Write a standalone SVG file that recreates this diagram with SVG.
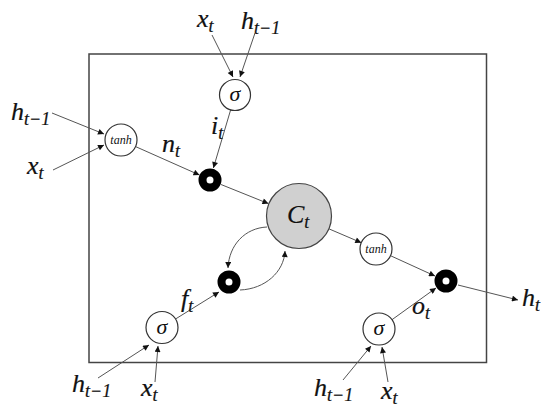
<svg xmlns="http://www.w3.org/2000/svg" width="559" height="418" viewBox="0 0 559 418">
<defs>
<marker id="ah" viewBox="0 0 10 10" refX="10" refY="5" markerWidth="7" markerHeight="6" orient="auto" markerUnits="userSpaceOnUse"><path d="M0,0 L10,5 L0,10 z" fill="#111"/></marker>
<style>
.lbl{font-family:"Liberation Serif",serif;font-style:italic;font-size:26px;fill:#111;stroke:#111;stroke-width:0.2}
.sub{font-size:18px}
.gate{fill:#fff;stroke:#333;stroke-width:1.2}
.gtxt{font-family:"Liberation Serif",serif;font-style:italic;fill:#111;text-anchor:middle}
.mult{fill:#fff;stroke:#000;stroke-width:8}
.c{fill:none;stroke:#555;stroke-width:1;marker-end:url(#ah)}
</style>
</defs>
<rect x="89" y="54" width="397.5" height="308.5" fill="none" stroke="#444" stroke-width="1.5"/>
<g id="connectors">
<path class="c" d="M212,35 L233,77"/>
<path class="c" d="M255,33 L240,77"/>
<path class="c" d="M230.6,110 L213.4,168"/>
<path class="c" d="M52,113 L104,134"/>
<path class="c" d="M53,170 L104,145"/>
<path class="c" d="M135.6,146.6 L199.5,175"/>
<path class="c" d="M221,184.5 L268.4,203.6"/>
<path class="c" d="M329.3,229 L361.3,242.7"/>
<path class="c" d="M390.5,255.7 L435,276"/>
<path class="c" d="M392,319.7 L436,288"/>
<path class="c" d="M458,285 L518,300"/>
<path class="c" d="M343,380 L371,346"/>
<path class="c" d="M388,382 L382,347"/>
<path class="c" d="M98,378 L149,345"/>
<path class="c" d="M155,382 L158,346"/>
<path class="c" d="M175.5,319 L219,292"/>
<path class="c" d="M267,227 C245,228 229,245 228,268"/>
<path class="c" d="M240,290 C265,289 284,272 285,251"/>
</g>
<g id="sigma_i"><circle class="gate" cx="235" cy="95" r="15.5"/><text class="gtxt" x="235" y="101" font-size="22">σ</text></g>
<g id="tanh_in"><circle class="gate" cx="121" cy="140" r="16"/><text class="gtxt" x="121" y="144" font-size="12">tanh</text></g>
<g id="mult_in"><circle class="mult" cx="210" cy="180" r="7.5"/></g>
<g id="cell"><circle cx="299" cy="216" r="32.5" fill="#d0d0d0" stroke="#444" stroke-width="1.2"/><text class="lbl" x="287" y="223">C<tspan class="sub" dy="5">t</tspan></text></g>
<g id="mult_f"><circle class="mult" cx="229" cy="282" r="7.5"/></g>
<g id="sigma_f"><circle class="gate" cx="162" cy="327.5" r="16"/><text class="gtxt" x="162" y="334" font-size="22">σ</text></g>
<g id="tanh_out"><circle class="gate" cx="376" cy="249" r="16"/><text class="gtxt" x="376" y="253" font-size="12">tanh</text></g>
<g id="mult_out"><circle class="mult" cx="446" cy="281" r="7.5"/></g>
<g id="sigma_o"><circle class="gate" cx="379" cy="329" r="16"/><text class="gtxt" x="379" y="335" font-size="22">σ</text></g>
<g id="labels">
<text class="lbl" x="197" y="27">x<tspan class="sub" dy="5">t</tspan></text>
<text class="lbl" x="241" y="29">h<tspan class="sub" dy="5">t−1</tspan></text>
<text class="lbl" x="11" y="120">h<tspan class="sub" dy="5">t−1</tspan></text>
<text class="lbl" x="27" y="174">x<tspan class="sub" dy="5">t</tspan></text>
<text class="lbl" x="162" y="152">n<tspan class="sub" dy="5">t</tspan></text>
<text class="lbl" x="211" y="134">i<tspan class="sub" dy="5">t</tspan></text>
<text class="lbl" x="181" y="307">f<tspan class="sub" dy="5">t</tspan></text>
<text class="lbl" x="412" y="314">o<tspan class="sub" dy="5">t</tspan></text>
<text class="lbl" x="522" y="306">h<tspan class="sub" dy="5">t</tspan></text>
<text class="lbl" x="72" y="392">h<tspan class="sub" dy="5">t−1</tspan></text>
<text class="lbl" x="141" y="396">x<tspan class="sub" dy="5">t</tspan></text>
<text class="lbl" x="314" y="396">h<tspan class="sub" dy="5">t−1</tspan></text>
<text class="lbl" x="381" y="399">x<tspan class="sub" dy="5">t</tspan></text>
</g>
</svg>
